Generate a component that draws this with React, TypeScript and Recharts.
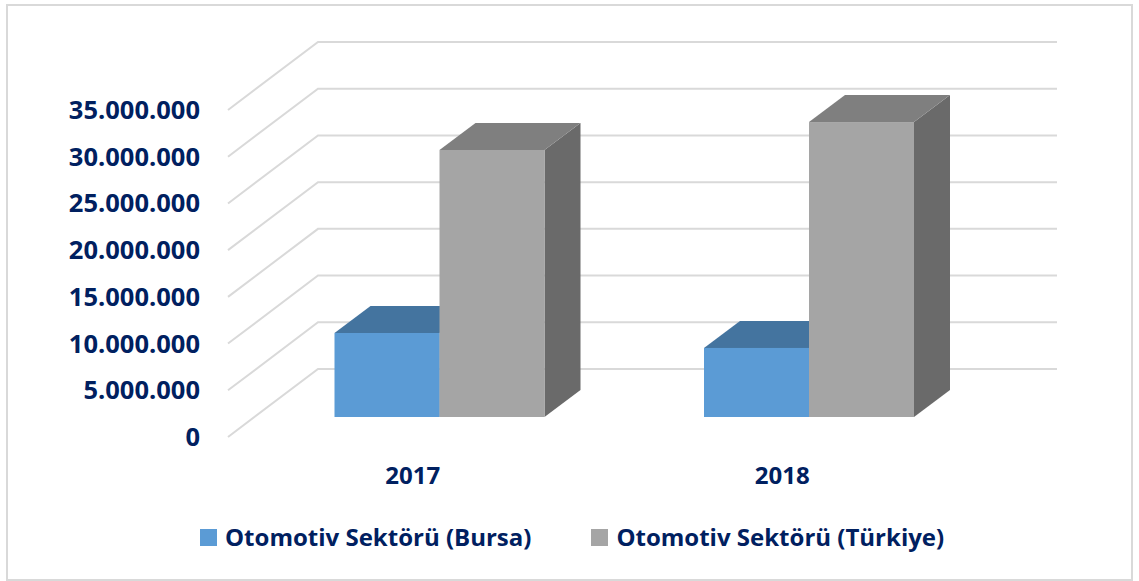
import { BarChart, Bar, XAxis, YAxis, CartesianGrid, Legend } from 'recharts'

const YEARS = ['2017', '2018']
const BURSA = [8990000, 7390000]
const TURKIYE = [28580000, 31570000]
const Y_TICKS = [0, 5000000, 10000000, 15000000, 20000000, 25000000, 30000000, 35000000]

const SERIES = [
  { key: 'bursa', name: 'Otomotiv Sektörü (Bursa)', front: '#5B9BD5', top: '#44749F', side: '#3F6E99' },
  { key: 'turkiye', name: 'Otomotiv Sektörü (Türkiye)', front: '#A5A5A5', top: '#7F7F7F', side: '#6A6A6A' },
]

const data = YEARS.map((year, i) => ({ year, bursa: BURSA[i], turkiye: TURKIYE[i] }))

// oblique projection of the floor / back wall
const WALL_DX = 90
const WALL_DY = -68
// bar sits a bit into the depth, and has its own depth
const BAR_SHIFT_X = 26.5
const BAR_SHIFT_Y = -20
const BAR_DX = 36
const BAR_DY = -27

const NAVY = '#002060'
const FONT = '"Open Sans", sans-serif'

const fmt = (v: number) => String(v).replace(/\B(?=(\d{3})+(?!\d))/g, '.')

function Box3D(props: any) {
  const { x, y, width, height, front, top, side } = props
  if (width == null || height == null) return null
  const fx = x + BAR_SHIFT_X
  const fy = y + BAR_SHIFT_Y
  const topPts = `${fx},${fy} ${fx + BAR_DX},${fy + BAR_DY} ${fx + width + BAR_DX},${fy + BAR_DY} ${fx + width},${fy}`
  const sidePts = `${fx + width},${fy} ${fx + width + BAR_DX},${fy + BAR_DY} ${fx + width + BAR_DX},${fy + height + BAR_DY} ${fx + width},${fy + height}`
  return (
    <g>
      <polygon points={sidePts} fill={side} />
      <polygon points={topPts} fill={top} />
      <rect x={fx} y={fy} width={width} height={height} fill={front} />
    </g>
  )
}

function WallLine(props: any) {
  const { x1, x2, y1 } = props
  const d = `M${x1},${y1} L${x1 + WALL_DX},${y1 + WALL_DY} L${x2 + WALL_DX},${y1 + WALL_DY}`
  return <path key={`g-${y1}`} d={d} fill="none" stroke="#D9D9D9" strokeWidth={2} />
}

function LegendContent() {
  return (
    <div style={{ display: 'flex', alignItems: 'center', paddingLeft: 200, fontFamily: FONT }}>
      {SERIES.map((s, i) => (
        <div key={s.key} style={{ display: 'flex', alignItems: 'center', marginLeft: i === 0 ? 0 : 60 }}>
          <span style={{ width: 17, height: 17, background: s.front, display: 'inline-block', marginRight: 8 }} />
          <span style={{ fontSize: 24, lineHeight: '26px', fontWeight: 700, color: NAVY }}>{s.name}</span>
        </div>
      ))}
    </div>
  )
}

export default function App() {
  return (
    <div style={{ position: 'absolute', left: 0, top: 0, width: 1139, height: 581, background: '#fff' }}>
      <div
        style={{
          position: 'absolute',
          left: 6,
          top: 4,
          width: 1127,
          height: 577,
          border: '2px solid #D9D9D9',
          boxSizing: 'border-box',
        }}
      />
      <div style={{ position: 'absolute', left: 0, top: 0 }}>
        <BarChart
          width={1139}
          height={581}
          data={data}
          margin={{ top: 110, right: 172, left: 0, bottom: 84 }}
          barGap={0}
          barSize={105}
        >
          <CartesianGrid vertical={false} horizontal={WallLine} />
          <XAxis
            dataKey="year"
            height={60}
            axisLine={false}
            tickLine={false}
            tickSize={0}
            tickMargin={30}
            tick={{ fill: NAVY, fontSize: 24, fontWeight: 700, fontFamily: FONT }}
          />
          <YAxis
            width={228}
            domain={[0, 35000000]}
            ticks={Y_TICKS}
            interval={0}
            axisLine={false}
            tickLine={false}
            tickSize={0}
            tickMargin={28}
            tickFormatter={fmt}
            tick={{ fill: NAVY, fontSize: 25.5, fontWeight: 700, fontFamily: FONT }}
          />
          <Legend
            layout="horizontal"
            verticalAlign="middle"
            align="center"
            content={<LegendContent />}
            wrapperStyle={{ top: 524, left: 0, width: 1139 }}
          />
          {SERIES.map((s) => (
            <Bar
              key={s.key}
              dataKey={s.key}
              name={s.name}
              fill={s.front}
              isAnimationActive={false}
              shape={(p: any) => <Box3D {...p} front={s.front} top={s.top} side={s.side} />}
            />
          ))}
        </BarChart>
      </div>
    </div>
  )
}
